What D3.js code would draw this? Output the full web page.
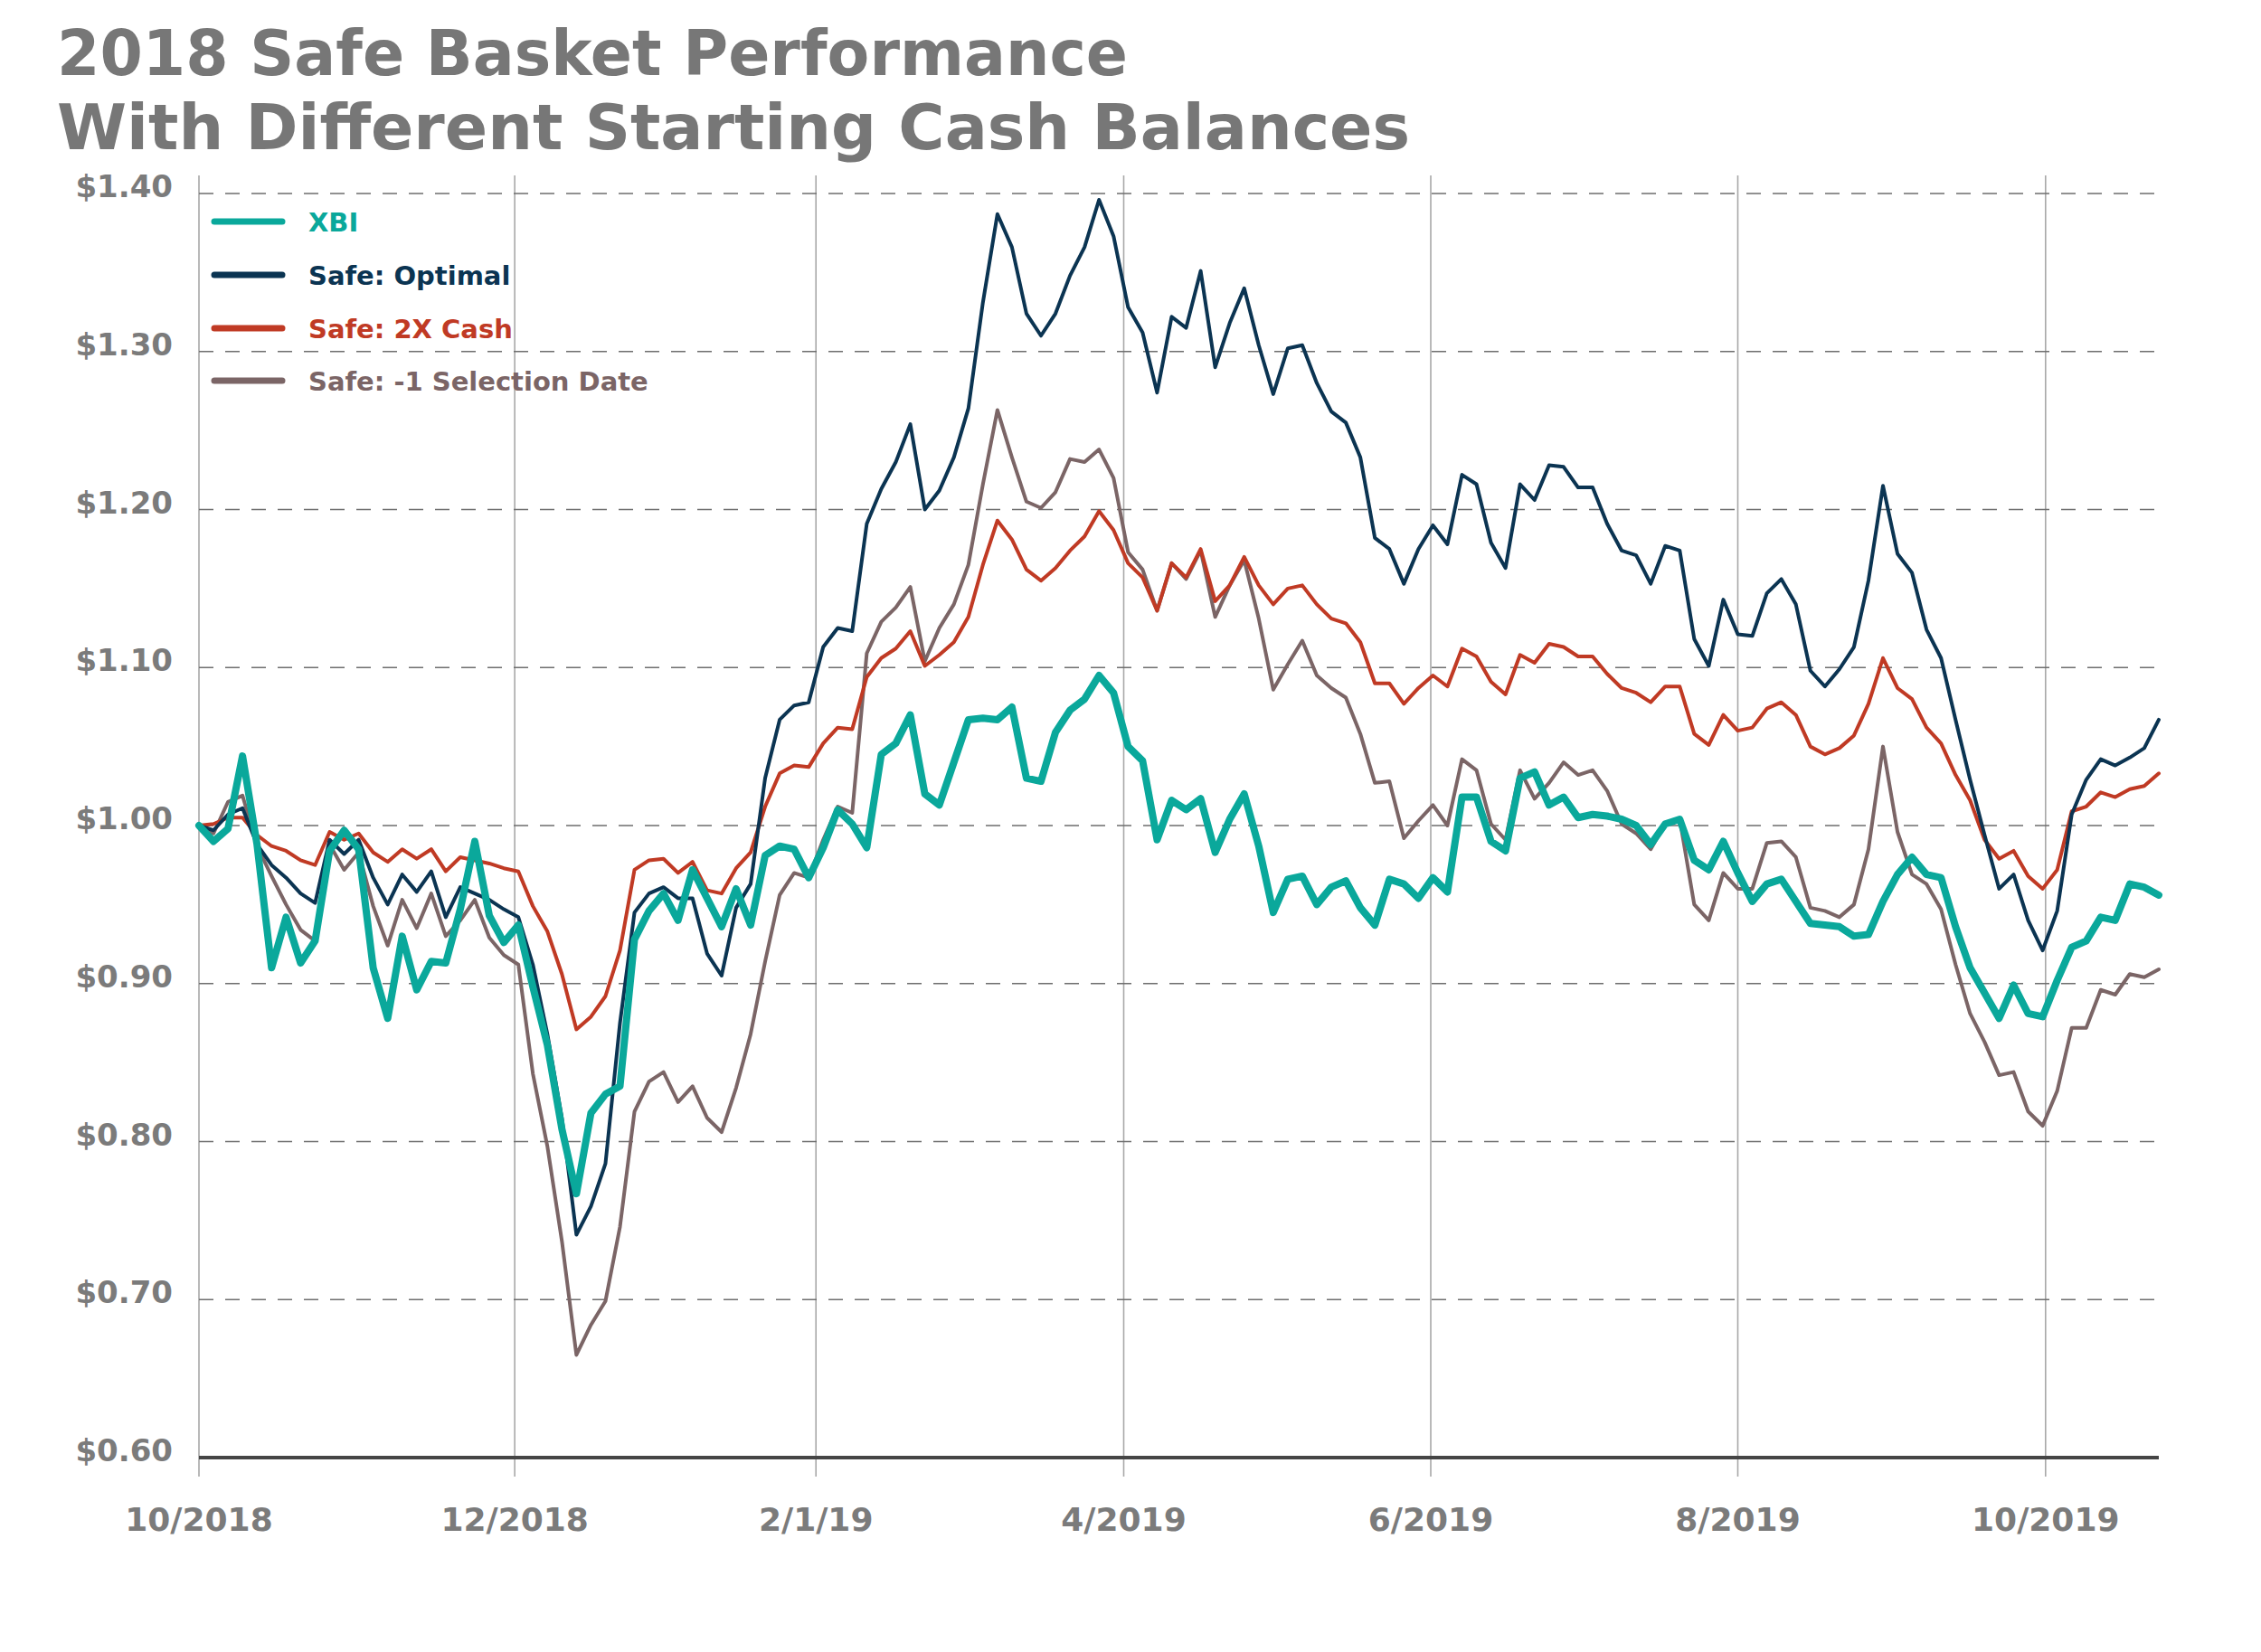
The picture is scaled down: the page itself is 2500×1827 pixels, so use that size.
<!DOCTYPE html>
<html>
<head>
<meta charset="utf-8">
<script src="https://cdn.jsdelivr.net/npm/d3@7"></script>
<style>
  html, body { margin: 0; padding: 0; background: #ffffff; }
  svg { display: block; }
</style>
</head>
<body>
<svg id="chart" width="2500" height="1827"></svg>
<script>
// ---------------- DATA ----------------
const titleLines = ["2018 Safe Basket Performance", "With Different Starting Cash Balances"];

const seriesNames = ["XBI", "Safe: Optimal", "Safe: 2X Cash", "Safe: -1 Selection Date"];

// one value every ~2 trading days, Oct 2018 -> late Oct 2019
const xbi = [
  1.000,0.990,0.998,1.044,0.988,0.910,0.942,0.913,0.927,0.984,
  0.997,0.985,0.910,0.878,0.930,0.896,0.914,0.913,0.947,0.990,
  0.943,0.926,0.937,0.898,0.861,0.808,0.767,0.818,0.830,0.835,
  0.928,0.946,0.957,0.940,0.972,0.954,0.936,0.960,0.937,0.981,
  0.987,0.985,0.967,0.986,1.010,1.001,0.986,1.045,1.052,1.070,
  1.020,1.013,1.040,1.067,1.068,1.067,1.075,1.030,1.028,1.059,
  1.073,1.080,1.095,1.084,1.050,1.041,0.991,1.016,1.010,1.017,
  0.983,1.004,1.020,0.987,0.945,0.966,0.968,0.950,0.961,0.965,
  0.948,0.937,0.966,0.963,0.954,0.967,0.958,1.018,1.018,0.990,
  0.984,1.030,1.034,1.013,1.018,1.005,1.007,1.006,1.004,1.000,
  0.988,1.001,1.004,0.978,0.972,0.990,0.970,0.952,0.963,0.966,
  0.952,0.938,0.937,0.936,0.930,0.931,0.952,0.969,0.980,0.969,
  0.967,0.936,0.910,0.894,0.878,0.899,0.881,0.879,0.902,0.923,
  0.927,0.942,0.940,0.963,0.961,0.956
];

const optimal = [
  1.000,0.997,1.007,1.011,0.988,0.975,0.967,0.957,0.951,0.991,
  0.982,0.991,0.967,0.950,0.969,0.958,0.971,0.942,0.961,0.957,
  0.953,0.947,0.942,0.912,0.868,0.815,0.741,0.759,0.786,0.875,
  0.945,0.957,0.961,0.954,0.954,0.919,0.905,0.948,0.963,1.030,
  1.067,1.076,1.078,1.113,1.125,1.123,1.191,1.213,1.230,1.254,
  1.200,1.212,1.233,1.264,1.331,1.387,1.366,1.324,1.310,1.324,
  1.348,1.366,1.396,1.373,1.328,1.312,1.274,1.322,1.315,1.351,
  1.290,1.318,1.340,1.304,1.273,1.302,1.304,1.280,1.262,1.255,
  1.233,1.182,1.175,1.153,1.175,1.190,1.178,1.222,1.216,1.179,
  1.163,1.216,1.206,1.228,1.227,1.214,1.214,1.191,1.174,1.171,
  1.153,1.177,1.174,1.118,1.101,1.143,1.121,1.120,1.147,1.156,
  1.140,1.098,1.088,1.099,1.113,1.155,1.215,1.172,1.160,1.124,
  1.106,1.067,1.029,0.994,0.960,0.969,0.940,0.921,0.946,1.007,
  1.029,1.042,1.038,1.043,1.049,1.067
];

const cash2x = [
  1.000,1.001,1.005,1.005,0.994,0.987,0.984,0.978,0.975,0.996,
  0.991,0.995,0.983,0.977,0.985,0.979,0.985,0.971,0.980,0.978,
  0.976,0.973,0.971,0.949,0.933,0.906,0.871,0.879,0.892,0.921,
  0.972,0.978,0.979,0.970,0.977,0.959,0.957,0.973,0.983,1.012,
  1.033,1.038,1.037,1.052,1.062,1.061,1.094,1.106,1.112,1.123,
  1.101,1.108,1.116,1.132,1.165,1.193,1.181,1.162,1.155,1.163,
  1.174,1.183,1.199,1.187,1.166,1.157,1.136,1.166,1.157,1.175,
  1.142,1.152,1.170,1.152,1.140,1.150,1.152,1.140,1.131,1.128,
  1.116,1.090,1.090,1.077,1.087,1.095,1.088,1.112,1.107,1.091,
  1.083,1.108,1.103,1.115,1.113,1.107,1.107,1.096,1.087,1.084,
  1.078,1.088,1.088,1.058,1.051,1.070,1.060,1.062,1.074,1.078,
  1.070,1.050,1.045,1.049,1.057,1.077,1.106,1.087,1.080,1.062,
  1.052,1.032,1.016,0.991,0.979,0.984,0.968,0.960,0.972,1.009,
  1.012,1.021,1.018,1.023,1.025,1.033
];

const minus1 = [
  1.000,0.995,1.015,1.019,0.987,0.968,0.950,0.934,0.927,0.988,
  0.972,0.983,0.949,0.924,0.953,0.935,0.957,0.930,0.940,0.953,
  0.929,0.918,0.912,0.843,0.797,0.737,0.665,0.684,0.699,0.746,
  0.819,0.838,0.844,0.825,0.835,0.815,0.806,0.834,0.868,0.914,
  0.956,0.970,0.967,0.991,1.012,1.008,1.109,1.129,1.138,1.151,
  1.104,1.125,1.140,1.165,1.216,1.263,1.233,1.205,1.201,1.211,
  1.232,1.230,1.238,1.220,1.173,1.162,1.136,1.166,1.156,1.174,
  1.132,1.152,1.168,1.131,1.086,1.102,1.117,1.095,1.087,1.081,
  1.058,1.027,1.028,0.992,1.003,1.013,1.000,1.042,1.035,1.001,
  0.991,1.035,1.017,1.027,1.040,1.032,1.035,1.022,1.001,0.995,
  0.985,1.001,1.004,0.950,0.940,0.970,0.960,0.960,0.989,0.990,
  0.980,0.948,0.946,0.942,0.950,0.985,1.050,0.996,0.969,0.963,
  0.947,0.912,0.881,0.863,0.842,0.844,0.819,0.810,0.832,0.872,
  0.872,0.896,0.893,0.906,0.904,0.909
];

const yTicks = [0.6, 0.7, 0.8, 0.9, 1.0, 1.1, 1.2, 1.3, 1.4];
const xTickLabels = ["10/2018", "12/2018", "2/1/19", "4/2019", "6/2019", "8/2019", "10/2019"];
const xTickIndex = [0, 21.75, 42.5, 63.7, 84.85, 106.0, 127.2];

// ---------------- STYLE ----------------
const colors = ["#0aa89b", "#0b3452", "#c03a24", "#7b6566"];
const widths = [8, 4, 4, 4];
const FONT = "'DejaVu Sans', 'Liberation Sans', sans-serif";
const GREY = "#7b7b7b";

const svg = d3.select("#chart");
svg.append("rect").attr("width", 2500).attr("height", 1827).attr("fill", "#ffffff");

const margin = { left: 220, right: 2387, top: 214, bottom: 1612 };
const N = xbi.length;
const x = d3.scaleLinear().domain([0, N - 1]).range([margin.left, margin.right]);
const y = d3.scaleLinear().domain([0.6, 1.4]).range([margin.bottom, margin.top]);

// title
svg.selectAll("text.title").data(titleLines).join("text")
  .attr("class", "title")
  .attr("x", 63)
  .attr("y", (d, i) => 83 + i * 82)
  .attr("font-family", FONT)
  .attr("font-weight", "bold")
  .attr("font-size", 70)
  .attr("fill", "#777777")
  .attr("textLength", (d, i) => i === 0 ? 1184 : 1496)
  .attr("lengthAdjust", "spacingAndGlyphs")
  .text(d => d);

// vertical grid lines (x ticks)
const gx = svg.append("g");
gx.selectAll("line").data(xTickIndex).join("line")
  .attr("x1", d => x(d)).attr("x2", d => x(d))
  .attr("y1", 194).attr("y2", 1633)
  .attr("stroke", "#a8a8a8").attr("stroke-width", 1.6);

// horizontal dashed grid lines
const gy = svg.append("g");
gy.selectAll("line").data(yTicks.filter(v => v > 0.6)).join("line")
  .attr("x1", margin.left).attr("x2", margin.right)
  .attr("y1", d => y(d)).attr("y2", d => y(d))
  .attr("stroke", "#6e6e6e").attr("stroke-width", 1.6)
  .attr("stroke-dasharray", "16,13");

// x axis baseline
svg.append("line")
  .attr("x1", margin.left).attr("x2", margin.right)
  .attr("y1", y(0.6)).attr("y2", y(0.6))
  .attr("stroke", "#454545").attr("stroke-width", 4);

// y labels
svg.append("g").selectAll("text").data(yTicks).join("text")
  .attr("x", 191)
  .attr("y", d => y(d) + 4)
  .attr("text-anchor", "end")
  .attr("font-family", FONT).attr("font-weight", "bold")
  .attr("font-size", 34).attr("fill", GREY)
  .text(d => "$" + d.toFixed(2));

// x labels
svg.append("g").selectAll("text").data(xTickIndex).join("text")
  .attr("x", d => x(d))
  .attr("y", 1693)
  .attr("text-anchor", "middle")
  .attr("font-family", FONT).attr("font-weight", "bold")
  .attr("font-size", 36).attr("fill", GREY)
  .text((d, i) => xTickLabels[i]);

// lines
const allSeries = [xbi, optimal, cash2x, minus1];
const line = d3.line().x((d, i) => x(i)).y(d => y(d)).curve(d3.curveLinear);
const drawOrder = [3, 2, 1, 0];
svg.append("g").selectAll("path").data(drawOrder).join("path")
  .attr("d", k => line(allSeries[k]))
  .attr("fill", "none")
  .attr("stroke", k => colors[k])
  .attr("stroke-width", k => widths[k])
  .attr("stroke-linejoin", "round")
  .attr("stroke-linecap", "round");

// legend
const legendY = [245, 304, 363, 421];
const lg = svg.append("g");
lg.selectAll("line").data(seriesNames).join("line")
  .attr("x1", 237).attr("x2", 312)
  .attr("y1", (d, i) => legendY[i]).attr("y2", (d, i) => legendY[i])
  .attr("stroke", (d, i) => colors[i])
  .attr("stroke-width", 7)
  .attr("stroke-linecap", "round");
lg.selectAll("text").data(seriesNames).join("text")
  .attr("x", 341)
  .attr("y", (d, i) => legendY[i] + 11)
  .attr("font-family", FONT).attr("font-weight", "bold")
  .attr("font-size", 29)
  .attr("fill", (d, i) => colors[i])
  .text(d => d);
</script>
</body>
</html>
